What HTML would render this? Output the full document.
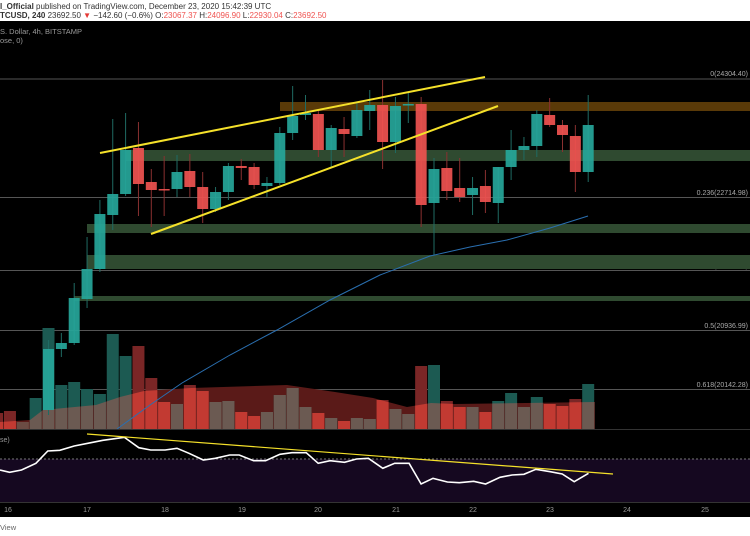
<!DOCTYPE html>
<html><head><meta charset="utf-8"><style>
html,body{margin:0;padding:0;width:750px;height:536px;overflow:hidden;background:#fff;font-family:"Liberation Sans",sans-serif}
svg{display:block}
</style></head><body>
<svg id="s" width="750" height="536" viewBox="0 0 750 536" xmlns="http://www.w3.org/2000/svg">
<defs><clipPath id="mc"><polygon points="0,429 0,422 30,420 43,410 96,405 120,397 144,391 191,388 287,385 335,392 373,398 407,407 431,403 455,404 526,403 595,402 595,429"/></clipPath></defs>
<rect x="0" y="0" width="750" height="21" fill="#fff"/>
<rect x="0" y="21" width="750" height="496" fill="#000"/>
<rect x="0" y="517" width="750" height="19" fill="#fff"/>
<text x="0" y="9" font-size="8" fill="#333"><tspan font-weight="bold">l_Official</tspan> published on TradingView.com, December 23, 2020 15:42:39 UTC</text>
<text x="0" y="18" font-size="8" fill="#333"><tspan font-weight="bold">TCUSD, 240</tspan> 23692.50 <tspan fill="#e53935">▼</tspan> −142.60 (−0.6%) O:<tspan fill="#ef5350">23067.37</tspan> H:<tspan fill="#ef5350">24096.90</tspan> L:<tspan fill="#ef5350">22930.04</tspan> C:<tspan fill="#ef5350">23692.50</tspan></text>
<text x="0" y="34" font-size="7.5" fill="#999">S. Dollar, 4h, BITSTAMP</text>
<text x="0" y="43" font-size="7.5" fill="#999">ose, 0)</text>
<g stroke="#555" stroke-width="1">
<line x1="0" y1="79" x2="750" y2="79"/><line x1="0" y1="197.5" x2="750" y2="197.5"/>
<line x1="0" y1="270.5" x2="750" y2="270.5"/><line x1="0" y1="330.5" x2="750" y2="330.5"/>
<line x1="0" y1="389.5" x2="750" y2="389.5"/>
</g>
<g font-size="7" fill="#aaa" text-anchor="end">
<text x="748" y="76">0(24304.40)</text>
<text x="748" y="195">0.236(22714.98)</text>
<text x="748" y="268">0.382(21731.70)</text>
<text x="748" y="328">0.5(20936.99)</text>
<text x="748" y="387">0.618(20142.28)</text>
</g>
<rect x="280" y="102" width="470" height="9" fill="#5a3a08"/>
<g fill="#2f4a30">
<rect x="126" y="150" width="624" height="11"/>
<rect x="87" y="224" width="663" height="9"/>
<rect x="87" y="255" width="663" height="14"/>
<rect x="74" y="296" width="676" height="5"/>
</g>
<g id="vol"></g>
<g id="cdl"></g>
<polyline fill="none" stroke="#2a6fb0" stroke-width="1" points="117,429 150,405 182,383 230,355 277,330 330,300 380,275 430,256 470,247 507,240 550,228 588,216"/>
<g stroke="#f5e12a" stroke-width="2"><line x1="100" y1="153" x2="485" y2="77"/><line x1="151" y1="234" x2="498" y2="106"/></g>
<line x1="0" y1="429.5" x2="750" y2="429.5" stroke="#333"/>
<rect x="0" y="459" width="750" height="43" fill="#150820"/>
<line x1="0" y1="459" x2="750" y2="459" stroke="#777" stroke-dasharray="2,2"/>
<line x1="0" y1="502.5" x2="750" y2="502.5" stroke="#333"/>
<text x="0" y="442" font-size="7" fill="#999">se)</text>
<polyline id="rsi" fill="none" stroke="#fff" stroke-width="1.6"/>
<line x1="87" y1="434" x2="613" y2="474" stroke="#f5e12a" stroke-width="1.2"/>
<g font-size="7" fill="#999" text-anchor="middle">
<text x="8" y="512">16</text><text x="87" y="512">17</text><text x="165" y="512">18</text><text x="242" y="512">19</text><text x="318" y="512">20</text><text x="396" y="512">21</text><text x="473" y="512">22</text><text x="550" y="512">23</text><text x="627" y="512">24</text><text x="705" y="512">25</text>
</g>
<text x="0" y="530" font-size="7.5" fill="#666">View</text>
</svg>
<script>
var NS="http://www.w3.org/2000/svg";
function el(t,a,p){var e=document.createElementNS(NS,t);for(var k in a)e.setAttribute(k,a[k]);p.appendChild(e);return e;}
var cx=function(i){return 48.5+12.85*i;};
var C=[[349,410,340,415,1],[343,349,333,357,1],[298,343,283,345,1],[269,299,237,308,1],[214,269,200,272,1],[194,215,119,230,1],[150,194,113,196,1],[148,184,122,216,0],[182,190,169,227,0],[189,190,156,216,0],[172,189,155,197,1],[171,187,154,197,0],[187,209,172,223,0],[192,209,187,212,1],[166,192,163,200,1],[166,168,159,180,0],[167,185,163,189,0],[183,186,177,197,1],[133,183,127,185,1],[116,133,86,140,1],[113,115,95,120,1],[114,150,110,157,0],[128,150,125,167,1],[129,134,117,157,0],[110,136,103,138,1],[105,111,90,130,1],[105,142,80,169,0],[106,142,97,153,1],[104,105,93,123,1],[104,205,97,227,0],[169,203,158,255,1],[168,191,152,200,0],[188,197,158,202,0],[188,195,177,215,1],[186,202,170,213,0],[167,203,167,223,1],[150,167,130,180,1],[146,150,137,160,1],[114,146,110,157,1],[115,125,98,127,0],[125,135,120,152,0],[136,172,125,192,0],[125,172,95,182,1]];
var g=document.getElementById("cdl");
C.forEach(function(c,i){var x=cx(i),col=c[4]?"#26a69a":"#ef5350";
el("line",{x1:x,x2:x,y1:c[2],y2:c[3],stroke:c[4]?"#1f6b63":"#8a3030","stroke-width":1},g);
el("rect",{x:x-5.5,y:c[0],width:11,height:Math.max(1.5,c[1]-c[0]),fill:col,"fill-opacity":0.92},g);});
var V=[[-4,413,0],[-3,411,0],[-2,422,2],[-1,398,1],[0,328,1],[1,385,1],[2,382,1],[3,389,1],[4,394,1],[5,334,1],[6,356,1],[7,346,0],[8,378,0],[9,402,0],[10,404,1],[11,385,0],[12,391,0],[13,402,1],[14,401,1],[15,412,0],[16,416,0],[17,412,1],[18,395,1],[19,388,1],[20,407,1],[21,413,0],[22,418,1],[23,421,0],[24,418,1],[25,419,1],[26,400,0],[27,409,1],[28,414,1],[29,366,0],[30,365,1],[31,401,0],[32,407,0],[33,407,1],[34,412,0],[35,401,1],[36,393,1],[37,407,1],[38,397,1],[39,404,0],[40,406,0],[41,399,0],[42,384,1]];
var vg=document.getElementById("vol");
var ma="0,429 0,422 30,420 43,410 96,405 120,397 144,391 191,388 287,385 335,392 373,398 407,407 431,403 455,404 526,403 595,402 595,429";
el("polygon",{points:ma,fill:"#5a1a18"},vg);
var dg=el("g",{},vg);
var lg=el("g",{"clip-path":"url(#mc)"},vg);
V.forEach(function(v){var x=cx(v[0])-6;var h=429-v[1];
el("rect",{x:x,y:v[1],width:12,height:h,fill:v[2]==1?"#1c5a52":"#7a2626"},dg);
el("rect",{x:x,y:v[1],width:12,height:h,fill:v[2]==1?"#6b5a52":(v[2]==2?"#6b4c44":"#c23a32")},lg);});
var R=[[0,420],[20,427],[45,420],[75,400],[100,363],[125,361],[155,348],[190,338],[215,331],[260,322],[290,353],[315,360],[345,360],[370,355],[395,370],[425,390],[450,385],[480,375],[500,375],[530,392],[555,392],[585,373],[610,368],[640,368],[665,400],[690,392],[720,397],[745,387],[770,385],[800,415],[825,400],[855,400],[880,462],[905,445],[935,456],[960,458],[990,454],[1015,462],[1045,442],[1070,435],[1095,433],[1120,418],[1150,425],[1175,432],[1200,455],[1230,430]];
document.getElementById("rsi").setAttribute("points",R.map(function(p){return (p[0]/2.09).toFixed(1)+","+(330+p[1]/3).toFixed(1);}).join(" "));
</script>
</body></html>
